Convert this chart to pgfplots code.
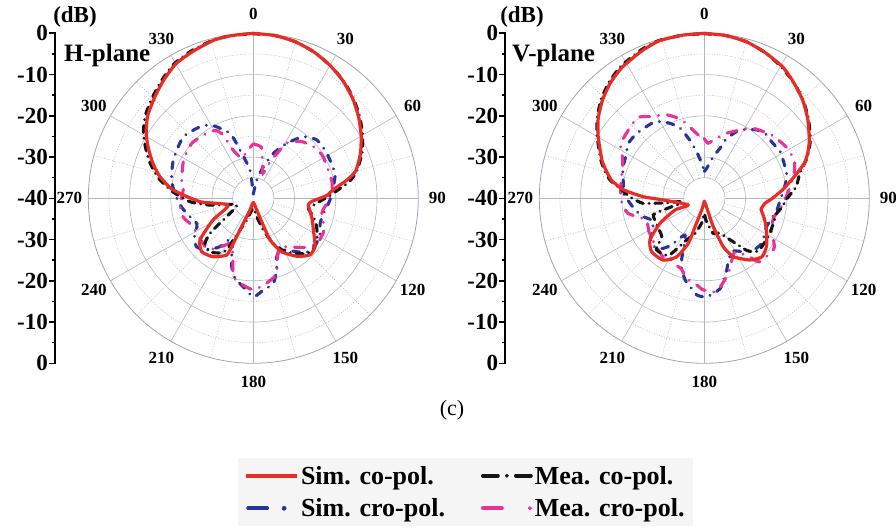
\documentclass[border=0pt]{standalone}
\usepackage{fontspec}
\setmainfont{Liberation Serif}
\usepackage{pgfplots}
\usepackage{pgfplotstable}
\pgfplotsset{compat=1.18}

\definecolor{simco}{RGB}{232,44,38}
\definecolor{meaco}{RGB}{22,22,22}
\definecolor{simcr}{RGB}{40,52,158}
\definecolor{meacr}{RGB}{236,48,150}
\definecolor{gridc}{RGB}{178,182,198}

\tikzset{
  simcoline/.style={color=simco, line width=3.2pt, solid, line join=round},
  meacoline/.style={color=meaco, line width=3.1pt, line cap=round, dash pattern=on 7pt off 5.8pt on 0.1pt off 5.8pt},
  simcrline/.style={color=simcr, line width=3.1pt, line cap=round, dash pattern=on 7pt off 7.8pt on 0.1pt off 7.8pt},
  meacrline/.style={color=meacr, line width=3.1pt, line cap=round, dash pattern=on 10pt off 8.8pt on 0.1pt off 8.8pt},
}

% ---------------- H-plane ----------------
\pgfplotstableread{
ang db
0 0
7.5 -0.2
15 -0.7
22.5 -1.6
30 -2.8
37.5 -4.2
45 -5.9
52.5 -7.8
60 -9.8
67.5 -11.9
75 -14.3
79 -16.9
84 -20.6
88 -22.3
93 -25.8
97 -26.6
102 -26.0
110 -24.8
118 -23.5
128 -21.0
135 -20.6
143 -22.4
152 -25.3
158 -29.1
161 -35.0
170 -38.6
180 -39.0
190 -38.6
196 -37.0
202.8 -31.7
204.1 -27.2
205.1 -24.8
214.6 -22.8
224 -22.0
232 -23.6
241.7 -28.9
255 -33.7
266.3 -27.1
276 -20.4
283 -16.8
289 -14.3
295 -12.0
301 -9.7
308 -7.5
316 -5.7
323 -4.0
330 -2.4
337.5 -1.5
346 -0.5
352.5 -0.2
360 0
}\tabHsc

\pgfplotstableread{
ang db
0 -0.1
7.5 -0.2
15 -0.7
22.5 -1.6
30 -2.8
37.5 -4.1
45 -5.7
52.5 -7.5
60 -9.4
67.5 -11.5
75 -14.0
80 -16.3
86.4 -20.6
94.5 -24.6
100.3 -26.4
107 -24.8
114 -23.2
123 -21.6
131 -20.8
136 -21.4
144 -23.5
151 -25.7
157 -28.6
162.5 -32.0
169.5 -35.5
180 -37.6
197 -34.5
202.8 -31.7
205.6 -28.8
207.2 -25.9
211.3 -24.5
219 -23.3
227 -24.0
231 -26.5
233.4 -29.9
248 -35.7
261 -29.4
267 -24.6
274.5 -20.5
282 -16.5
289 -13.5
295 -11.2
301 -8.9
308 -6.9
316 -5.2
323 -3.6
330 -2.1
337.5 -1.2
346 -0.4
352.5 -0.2
360 -0.1
}\tabHmc

\pgfplotstableread{
ang db
0 -39.0
10.5 -35.5
17.6 -32.0
24 -28.1
31.3 -24.4
39 -20.8
47.4 -19.1
58.5 -19.1
73 -19.3
81.7 -20.4
91.3 -21.4
102 -22.6
110.5 -22.7
117.7 -21.7
125.4 -21.2
134.2 -21.4
140.9 -23.3
147.1 -25.1
153 -25.8
158.2 -24.7
162 -21.7
166.8 -18.8
173.8 -17.6
180 -16.1
186.5 -18.4
192.9 -20.1
197.5 -22.6
201.4 -25.7
208 -29.2
214.5 -25.8
222 -23.1
229.5 -21.9
237 -23.0
245.6 -25.0
257.3 -23.4
264.8 -22.2
273 -21.0
282.6 -19.7
295.6 -18.5
311.3 -17.4
323.3 -18.4
330.4 -19.6
340.3 -23.3
344.6 -27.9
353.3 -33.1
360 -39.0
}\tabHsx

\pgfplotstableread{
ang db
0 -26.8
9 -27.5
14 -31.0
21 -33.5
25 -30.0
31 -24.4
40 -22.0
50 -20.7
59 -20.3
77 -20.5
84 -20.9
95 -22.3
102 -23.0
114 -21.2
125 -21.0
132.5 -22.4
143 -25.2
152 -26.5
160 -23.3
163 -20.7
171 -19.2
180 -17.8
189 -19.2
194.3 -20.4
198 -24.0
203 -27.0
207.4 -27.7
216 -25.0
223 -23.4
238 -23.9
248 -23.5
255 -22.4
265 -22.2
278 -22.9
284 -22.1
299 -20.7
312 -20.0
324 -20.6
331 -21.2
334.6 -23.0
336.6 -26.8
343.8 -29.9
352 -28.5
360 -26.8
}\tabHmx

% ---------------- V-plane ----------------
\pgfplotstableread{
ang db
0 0
7.5 -0.2
15 -0.7
22.5 -1.7
30.8 -2.9
37.5 -4.5
45 -6.3
52.5 -8.4
61 -10.9
66 -12.5
70.7 -14.3
77.3 -18.0
84 -21.0
90 -23.5
95 -25.3
101 -26.0
103 -25.7
110 -24.4
119 -22.7
128 -20.9
135.5 -20.1
143.5 -21.4
153.6 -24.2
158.6 -27.4
162.4 -32.8
165 -37.5
172 -39.0
180 -39.3
188 -38.5
192.5 -37.1
198 -32.8
199.6 -28.4
205.3 -24.3
213.6 -22.0
224.6 -21.8
232.5 -23.4
240.6 -27.7
248.2 -32.4
247.3 -35.8
267.6 -30.1
271.5 -25.2
276 -20.3
281 -17.1
286 -15.2
290.5 -13.5
300 -10.3
307 -7.8
314 -5.7
321 -3.9
328 -2.5
337 -1.2
344 -0.3
352.5 -0.1
360 0
}\tabVsc

\pgfplotstableread{
ang db
0 -0.1
7.5 -0.2
15 -0.7
22.5 -1.7
30 -3.0
37.5 -4.5
45 -6.2
52.5 -8.2
61 -10.6
68 -13.0
75 -16.0
83 -17.6
91 -20.2
96 -20.9
102 -22.1
110 -22.2
118 -22.0
124 -21.9
133 -21.7
137 -22.2
141 -23.8
144 -26.0
148 -28.1
156 -30.7
166 -31.3
176 -34.7
180 -36.4
186 -34.0
195 -31.0
203 -29.0
212 -23.7
223 -23.0
228 -26.1
240 -26.8
252 -27.0
254 -29.7
255.5 -31.8
258 -34.3
262.5 -33.9
263 -30.2
264 -29.0
265.4 -25.0
271 -22.0
276 -19.8
281 -16.7
286 -14.8
290.5 -13.2
300 -10.0
307 -7.5
314 -5.3
321 -3.5
328 -2.1
337 -0.9
344 -0.2
352.5 -0.1
360 -0.1
}\tabVmc

\pgfplotstableread{
ang db
0 -33.5
4.6 -32.7
12 -29.7
17.4 -27.3
20.5 -24.5
27.6 -21.3
37.5 -19.1
44.6 -18.4
50 -18.7
58.4 -18.4
68.6 -19.0
75.3 -19.3
85.2 -20.8
91.3 -21.6
99.2 -22.2
114.5 -23.4
128 -22.3
136.5 -22.7
144 -24.0
152 -25.5
159.3 -23.6
162.6 -21.8
170 -17.8
178.6 -16.1
184.5 -16.5
189 -18.3
193.3 -19.7
198 -22.2
200.6 -24.5
207.7 -29.9
215 -26.2
219.4 -24.3
223.6 -23.3
231.4 -23.2
245.4 -26.4
253.2 -24.6
260.4 -23.0
273.5 -20.3
278 -20.2
290 -19.0
297 -18.5
306 -17.3
314 -17.3
325 -17.8
330 -18.5
335.4 -20.0
341 -22.0
346 -25.5
350.7 -28.6
355.8 -31.5
360 -33.5
}\tabVsx

\pgfplotstableread{
ang db
0 -25.5
4 -26.6
12 -25.0
19 -23.3
27.6 -21.3
35 -19.3
46.8 -17.6
57.7 -16.6
66.9 -16.3
75 -17.5
85 -19.5
95 -21.0
105 -22.5
115 -22.1
125.5 -19.2
139 -19.6
142.4 -22.1
150 -25.0
156 -23.6
162.3 -20.9
172.4 -17.2
180.6 -17.8
185 -18.9
192.4 -20.1
198 -22.0
203 -22.4
210 -23.2
214 -22.5
225 -23.5
237.5 -24.2
249.6 -24.9
259 -21.1
269 -19.8
280 -19.5
295 -18.2
303.4 -15.8
319.8 -14.6
326.4 -16.2
335.7 -17.8
343.9 -20.2
354.6 -24.6
360 -25.5
}\tabVmx

% radius of a level in pt: (dB+40)*4.125
\newcommand{\polargrid}{%
  \foreach \r in {61.875,103.125,144.375}{%
    \draw[gridc, line width=0.5pt, dash pattern=on 1pt off 1.6pt] (0,0) circle[radius=\r pt];}
  \foreach \r in {20.625,41.25,82.5,123.75}{%
    \draw[gridc, line width=0.6pt] (0,0) circle[radius=\r pt];}
  \foreach \a in {15,45,...,345}{%
    \draw[gridc, line width=0.5pt, dash pattern=on 1pt off 1.6pt] ({90-\a}:20.625pt) -- ({90-\a}:165pt);}
  \foreach \a in {0,30,...,330}{%
    \draw[gridc, line width=0.6pt] ({90-\a}:20.625pt) -- ({90-\a}:165pt);}
  \draw[gridc!90!black, line width=0.8pt] (0,0) circle[radius=165pt];
  \foreach \a in {0,30,...,330}{%
    \node[font=\fontsize{17}{20}\selectfont\bfseries, inner sep=0pt] at ({90-\a}:184pt) {\a};}
}

% dB scale beside a pattern, #1 = its x offset from the centre
\newcommand{\dbscale}[1]{%
  \draw[line width=1.8pt] (#1,166pt) -- (#1,-166pt);
  \foreach \k/\lab in {4/0,3/-10,2/-20,1/-30,0/-40,-1/-30,-2/-20,-3/-10,-4/0}{%
    \draw[line width=1.6pt] (#1,\k*41.25pt) -- ++(-6pt,0pt);
    \node[anchor=east, inner sep=0pt, font=\fontsize{23}{26}\selectfont\bfseries] at (#1-7pt,\k*41.25pt) {\lab};}
  \foreach \k in {3.5,2.5,1.5,0.5,-0.5,-1.5,-2.5,-3.5}{%
    \draw[line width=1.4pt] (#1,\k*41.25pt) -- ++(-3.5pt,0pt);}
}

\newcommand{\polarplot}[2]{%
  \addplot[#1, forget plot] table[x expr={(\thisrow{db}+40)*sin(\thisrow{ang})},
                                  y expr={(\thisrow{db}+40)*cos(\thisrow{ang})}] {#2};}

\pgfplotsset{polarframe/.style={anchor=origin, x=4.125pt, y=4.125pt,
  xmin=-42, xmax=42, ymin=-42, ymax=42, hide axis, clip=false}}

\begin{document}
\begin{tikzpicture}
\path[use as bounding box] (0pt,0pt) rectangle (896pt,-527pt);

\begin{scope}[shift={(253.3pt,-198.3pt)}]\polargrid\end{scope}
\begin{scope}[shift={(704.3pt,-198.3pt)}]\polargrid\end{scope}

\begin{axis}[polarframe, at={(253.3pt,-198.3pt)},
  legend columns=2, legend cell align=left,
  legend style={at={(axis cs:-3.7,-62.9)}, anchor=north west, draw=none,
    fill=black!4, font=\fontsize{26}{30}\selectfont\bfseries,
    inner xsep=6pt, inner ysep=6pt, row sep=9pt,
    /tikz/every even column/.append style={column sep=34pt}}]
  \addlegendimage{legend image code/.code={%
    \draw[simco, line width=3.8pt] (0pt,0pt) -- (51pt,0pt);}}
  \addlegendimage{legend image code/.code={%
    \draw[meaco, line width=3.8pt, line cap=round] (2pt,0pt) -- (17pt,0pt) (35pt,0pt) -- (50pt,0pt);
    \fill[meaco] (26pt,0pt) circle[radius=1.8pt];}}
  \addlegendimage{legend image code/.code={%
    \draw[simcr, line width=3.8pt, line cap=round] (2pt,0pt) -- (21pt,0pt);
    \fill[simcr] (38pt,0pt) circle[radius=2.1pt];}}
  \addlegendimage{legend image code/.code={%
    \draw[meacr, line width=3.8pt, line cap=round] (2pt,0pt) -- (21pt,0pt);
    \fill[meacr] (49pt,0pt) circle[radius=1.8pt];}}
  \polarplot{simcrline, smooth, tension=0.35}{\tabHsx}
  \polarplot{meacrline, smooth, tension=0.35}{\tabHmx}
  \polarplot{meacoline, smooth, tension=0.35}{\tabHmc}
  \polarplot{simcoline, smooth, tension=0.35}{\tabHsc}
  \legend{Sim. co-pol., Mea. co-pol., Sim. cro-pol., Mea. cro-pol.}
\end{axis}

\begin{axis}[polarframe, at={(704.3pt,-198.3pt)}]
  \polarplot{simcrline, smooth, tension=0.35}{\tabVsx}
  \polarplot{meacrline, smooth, tension=0.35}{\tabVmx}
  \polarplot{meacoline, smooth, tension=0.35}{\tabVmc}
  \polarplot{simcoline, smooth, tension=0.35}{\tabVsc}
\end{axis}

\begin{scope}[shift={(253.3pt,-198.3pt)}]\dbscale{-198.3pt}\end{scope}
\begin{scope}[shift={(704.3pt,-198.3pt)}]\dbscale{-199pt}\end{scope}

\node[font=\fontsize{23}{26}\selectfont\bfseries, inner sep=0pt] at (75pt,-17pt) {(dB)};
\node[font=\fontsize{23}{26}\selectfont\bfseries, inner sep=0pt] at (522pt,-17pt) {(dB)};
\node[font=\fontsize{25}{30}\selectfont\bfseries, anchor=base west, inner sep=0pt] at (64pt,-61pt) {H-plane};
\node[font=\fontsize{25}{30}\selectfont\bfseries, anchor=base west, inner sep=0pt] at (512pt,-61pt) {V-plane};
\node[font=\fontsize{22}{26}\selectfont, inner sep=0pt] at (452pt,-410pt) {(c)};
\end{tikzpicture}
\end{document}
